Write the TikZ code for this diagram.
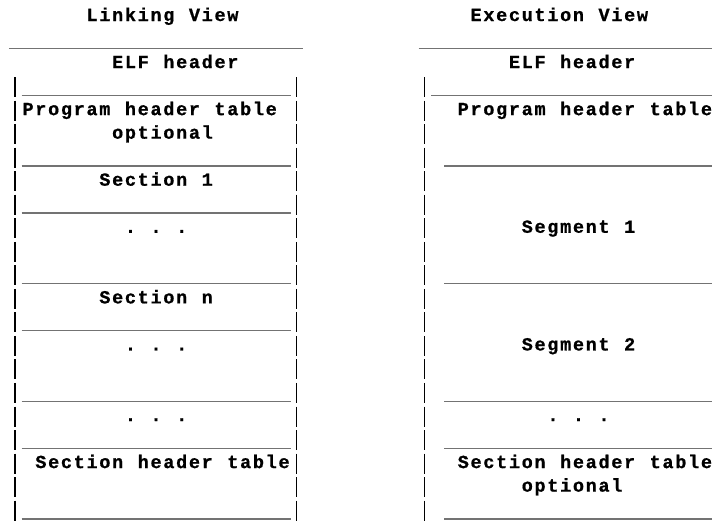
\documentclass[tikz,border=0pt]{standalone}
\usepackage{fontspec}
\setmonofont{Liberation Mono}[BoldFont={Liberation Mono Bold},BoldFeatures={FakeBold=0.8}]
\newlength{\cellw}\setlength{\cellw}{12.8pt}
\ExplSyntaxOn
\NewDocumentCommand{\gridtext}{m}{\str_map_inline:nn{#1}{\makebox[\cellw][c]{##1}}}
\ExplSyntaxOff
\newcommand{\cx}[1]{8.9+12.8*(#1)}
\newcommand{\ry}[1]{21+23.53*(#1)}
\newcommand{\uy}[1]{24.8+23.53*(#1)}
\tikzset{
  lbl/.style={anchor=base west, inner sep=0pt, outer sep=0pt,
    font=\ttfamily\bfseries\fontsize{18.5}{22}\selectfont},
  rule/.style={line width=1.4pt, draw=black!55},
  bar/.style={line width=1.8pt, draw=black},
}
\begin{document}
\begin{tikzpicture}[x=1pt,y=-1pt]
\useasboundingbox (0,0) rectangle (712,523);
\clip (0,0) rectangle (712,523);
% ---------- Linking view ----------
\node[lbl] (ltitle) at ({\cx{6}},{\ry{0}}) {\gridtext{Linking View}};
\node[lbl] (lelf)   at ({\cx{8}},{\ry{2}}) {\gridtext{ELF header}};
\node[lbl] (lpht)   at ({\cx{1}},{\ry{4}}) {\gridtext{Program header table}};
\node[lbl] (lopt)   at ({\cx{8}},{\ry{5}}) {\gridtext{optional}};
\node[lbl] (lsec1)  at ({\cx{7}},{\ry{7}}) {\gridtext{Section 1}};
\node[lbl] (ldots1) at ({\cx{9}},{\ry{9}}) {\gridtext{. . .}};
\node[lbl] (lsecn)  at ({\cx{7}},{\ry{12}}) {\gridtext{Section n}};
\node[lbl] (ldots2) at ({\cx{9}},{\ry{14}}) {\gridtext{. . .}};
\node[lbl] (ldots3) at ({\cx{9}},{\ry{17}}) {\gridtext{. . .}};
\node[lbl] (lsht)   at ({\cx{2}},{\ry{19}}) {\gridtext{Section header table}};
\draw[rule] ({\cx{0}},{\uy{1}}) -- ({\cx{23}},{\uy{1}});
\foreach \r in {3,6,8,11,13,16,18,21}
  \draw[rule] ({\cx{1}},{\uy{\r}}) -- ({\cx{22}},{\uy{\r}});
\foreach \r in {3,...,21}{
  \draw[bar] ({\cx{0}+5.9},{\ry{\r}-14.5}) -- ({\cx{0}+5.9},{\ry{\r}+5.5});
  \draw[bar] ({\cx{22}+5.9},{\ry{\r}-14.5}) -- ({\cx{22}+5.9},{\ry{\r}+5.5});
}
% ---------- Execution view ----------
\node[lbl] (rtitle) at ({\cx{36}},{\ry{0}}) {\gridtext{Execution View}};
\node[lbl] (relf)   at ({\cx{39}},{\ry{2}}) {\gridtext{ELF header}};
\node[lbl] (rpht)   at ({\cx{35}},{\ry{4}}) {\gridtext{Program header table}};
\node[lbl] (rseg1)  at ({\cx{40}},{\ry{9}}) {\gridtext{Segment 1}};
\node[lbl] (rseg2)  at ({\cx{40}},{\ry{14}}) {\gridtext{Segment 2}};
\node[lbl] (rdots)  at ({\cx{42}},{\ry{17}}) {\gridtext{. . .}};
\node[lbl] (rsht)   at ({\cx{35}},{\ry{19}}) {\gridtext{Section header table}};
\node[lbl] (ropt)   at ({\cx{40}},{\ry{20}}) {\gridtext{optional}};
\draw[rule] ({\cx{32}},{\uy{1}}) -- (712,{\uy{1}});
\draw[rule] ({\cx{33}},{\uy{3}}) -- (712,{\uy{3}});
\foreach \r in {6,11,16,18,21}
  \draw[rule] ({\cx{34}},{\uy{\r}}) -- (712,{\uy{\r}});
\foreach \r in {3,...,21}
  \draw[bar] ({\cx{32}+5.9},{\ry{\r}-14.5}) -- ({\cx{32}+5.9},{\ry{\r}+5.5});
\end{tikzpicture}
\end{document}
